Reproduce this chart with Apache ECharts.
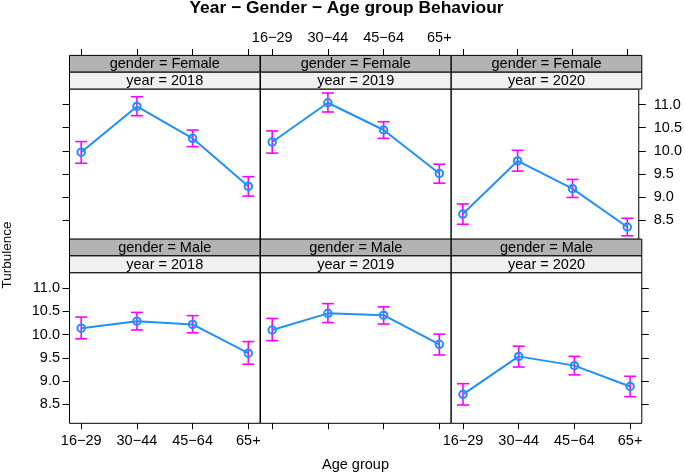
<!DOCTYPE html>
<html>
<head>
<meta charset="utf-8">
<script src="https://cdn.jsdelivr.net/npm/echarts@6/dist/echarts.min.js"></script>
<style>html,body{margin:0;padding:0;background:#fff}#c{width:685px;height:473px}</style>
</head>
<body>
<div id="c"></div>
<script>
const ageGroups = ['16\u221229', '30\u221244', '45\u221264', '65+'];
const years = ['2018', '2019', '2020'];
const genders = ['Female', 'Male'];
const yTicks = [8.5, 9.0, 9.5, 10.0, 10.5, 11.0];

const femaleMean2018 = [9.97, 10.96, 10.27, 9.23];
const femaleLow2018  = [9.73, 10.76, 10.09, 9.02];
const femaleHigh2018 = [10.20, 11.17, 10.45, 9.44];
const femaleMean2019 = [10.19, 11.04, 10.45, 9.51];
const femaleLow2019  = [9.95, 10.84, 10.27, 9.30];
const femaleHigh2019 = [10.43, 11.25, 10.63, 9.71];
const femaleMean2020 = [8.63, 9.78, 9.18, 8.35];
const femaleLow2020  = [8.41, 9.56, 8.99, 8.16];
const femaleHigh2020 = [8.85, 10.01, 9.38, 8.54];
const maleMean2018 = [10.14, 10.29, 10.22, 9.60];
const maleLow2018  = [9.91, 10.10, 10.04, 9.36];
const maleHigh2018 = [10.38, 10.48, 10.41, 9.85];
const maleMean2019 = [10.10, 10.46, 10.42, 9.79];
const maleLow2019  = [9.87, 10.26, 10.23, 9.56];
const maleHigh2019 = [10.35, 10.67, 10.60, 10.01];
const maleMean2020 = [8.71, 9.53, 9.33, 8.88];
const maleLow2020  = [8.48, 9.30, 9.13, 8.66];
const maleHigh2020 = [8.94, 9.75, 9.53, 9.10];

const panels = [
  [[femaleMean2018, femaleLow2018, femaleHigh2018], [femaleMean2019, femaleLow2019, femaleHigh2019], [femaleMean2020, femaleLow2020, femaleHigh2020]],
  [[maleMean2018, maleLow2018, maleHigh2018], [maleMean2019, maleLow2019, maleHigh2019], [maleMean2020, maleLow2020, maleHigh2020]]
];

// layout
const colLeft = [69.5, 260.5, 451.3];
const colW = 190.5;
const rowTop = [89, 272.7];
const rowH = [150.3, 150.6];
const stripH = 16.8;
const FONT = 'Liberation Sans, Arial, sans-serif';
const FS = 14.5;

const grids = [], xAxes = [], yAxes = [], series = [], graphics = [];
let idx = 0;
for (let r = 0; r < 2; r++) {
  for (let c = 0; c < 3; c++) {
    grids.push({left: colLeft[c], top: rowTop[r], width: colW, height: rowH[r], show: true,
      borderColor: '#000', borderWidth: 1, backgroundColor: '#fff', containLabel: false});
    const top = r === 0;
    const showXLabel = top ? c === 1 : c !== 1;
    xAxes.push({type: 'value', gridIndex: idx, min: 0.79, max: 4.21,
      position: top ? 'top' : 'bottom', offset: top ? 2 * stripH + 0.4 : 0,
      axisLine: {show: false}, splitLine: {show: false},
      axisTick: {show: true, length: 6, customValues: [1, 2, 3, 4], lineStyle: {color: '#000', width: 1}},
      axisLabel: {show: showXLabel, customValues: [1, 2, 3, 4], margin: top ? 10 : 10,
        formatter: v => ageGroups[Math.round(v) - 1], color: '#000', fontSize: FS, fontFamily: FONT}
    });
    const showYTick = c !== 1;
    const showYLabel = (r === 1 && c === 0) || (r === 0 && c === 2);
    yAxes.push({type: 'value', gridIndex: idx, min: 8.084, max: 11.338,
      position: c === 2 ? 'right' : 'left',
      axisLine: {show: false}, splitLine: {show: false},
      axisTick: {show: showYTick, length: 7, customValues: yTicks, lineStyle: {color: '#000', width: 1}},
      axisLabel: {show: showYLabel, customValues: yTicks, margin: c === 2 ? 15 : 9.5,
        formatter: v => v.toFixed(1), color: '#000', fontSize: FS, fontFamily: FONT}
    });
    const d = panels[r][c];
    series.push({type: 'custom', xAxisIndex: idx, yAxisIndex: idx, z: 3,
      data: ageGroups.map((g, i) => [i + 1, d[1][i], d[2][i]]),
      renderItem: function (params, api) {
        const x = api.value(0);
        const lo = api.coord([x, api.value(1)]);
        const hi = api.coord([x, api.value(2)]);
        const st = {stroke: '#ff00ff', lineWidth: 1.6};
        const hw = 6;
        return {type: 'group', children: [
          {type: 'line', shape: {x1: lo[0], y1: lo[1], x2: hi[0], y2: hi[1]}, style: st},
          {type: 'line', shape: {x1: lo[0] - hw, y1: lo[1], x2: lo[0] + hw, y2: lo[1]}, style: st},
          {type: 'line', shape: {x1: hi[0] - hw, y1: hi[1], x2: hi[0] + hw, y2: hi[1]}, style: st}
        ]};
      }
    });
    series.push({type: 'line', xAxisIndex: idx, yAxisIndex: idx, z: 4,
      data: ageGroups.map((g, i) => [i + 1, d[0][i]]),
      symbol: 'circle', symbolSize: 7.5, showSymbol: true,
      lineStyle: {color: '#1e90ff', width: 2},
      itemStyle: {color: 'rgba(0,0,0,0)', borderColor: '#1e90ff', borderWidth: 2},
      emphasis: {disabled: true}, animation: false
    });
    // strips
    const sx = colLeft[c], gy = rowTop[r] - 2 * stripH, yy = rowTop[r] - stripH;
    graphics.push({type: 'rect', shape: {x: sx, y: gy, width: colW, height: stripH},
      style: {fill: '#b3b3b3', stroke: '#000', lineWidth: 1}, z: 10});
    graphics.push({type: 'rect', shape: {x: sx, y: yy, width: colW, height: stripH},
      style: {fill: '#f0f0f0', stroke: '#000', lineWidth: 1}, z: 10});
    graphics.push({type: 'text', x: sx + colW / 2, y: gy + stripH / 2 + 0.5, z: 11,
      style: {text: 'gender = ' + genders[r], fill: '#000', font: FS + 'px ' + FONT, align: 'center', verticalAlign: 'middle'}});
    graphics.push({type: 'text', x: sx + colW / 2, y: yy + stripH / 2 + 0.5, z: 11,
      style: {text: 'year = ' + years[c], fill: '#000', font: FS + 'px ' + FONT, align: 'center', verticalAlign: 'middle'}});
    idx++;
  }
}
graphics.push({type: 'text', x: 7, y: 255, rotation: Math.PI / 2, z: 11,
  style: {text: 'Turbulence', fill: '#000', font: '13.5px ' + FONT, align: 'center', verticalAlign: 'middle'}});
graphics.push({type: 'text', x: 355.5, y: 465, z: 11,
  style: {text: 'Age group', fill: '#000', font: FS + 'px ' + FONT, align: 'center', verticalAlign: 'middle'}});
graphics.push({type: 'text', x: 346.5, y: 8.5, z: 11,
  style: {text: 'Year \u2212 Gender \u2212 Age group Behaviour', fill: '#000', font: 'bold 17.4px ' + FONT, align: 'center', verticalAlign: 'middle'}});

const chart = echarts.init(document.getElementById('c'), null, {renderer: 'canvas'});
chart.setOption({
  animation: false,
  backgroundColor: '#fff',
  grid: grids, xAxis: xAxes, yAxis: yAxes, series: series, graphic: graphics
});
</script>
</body>
</html>
